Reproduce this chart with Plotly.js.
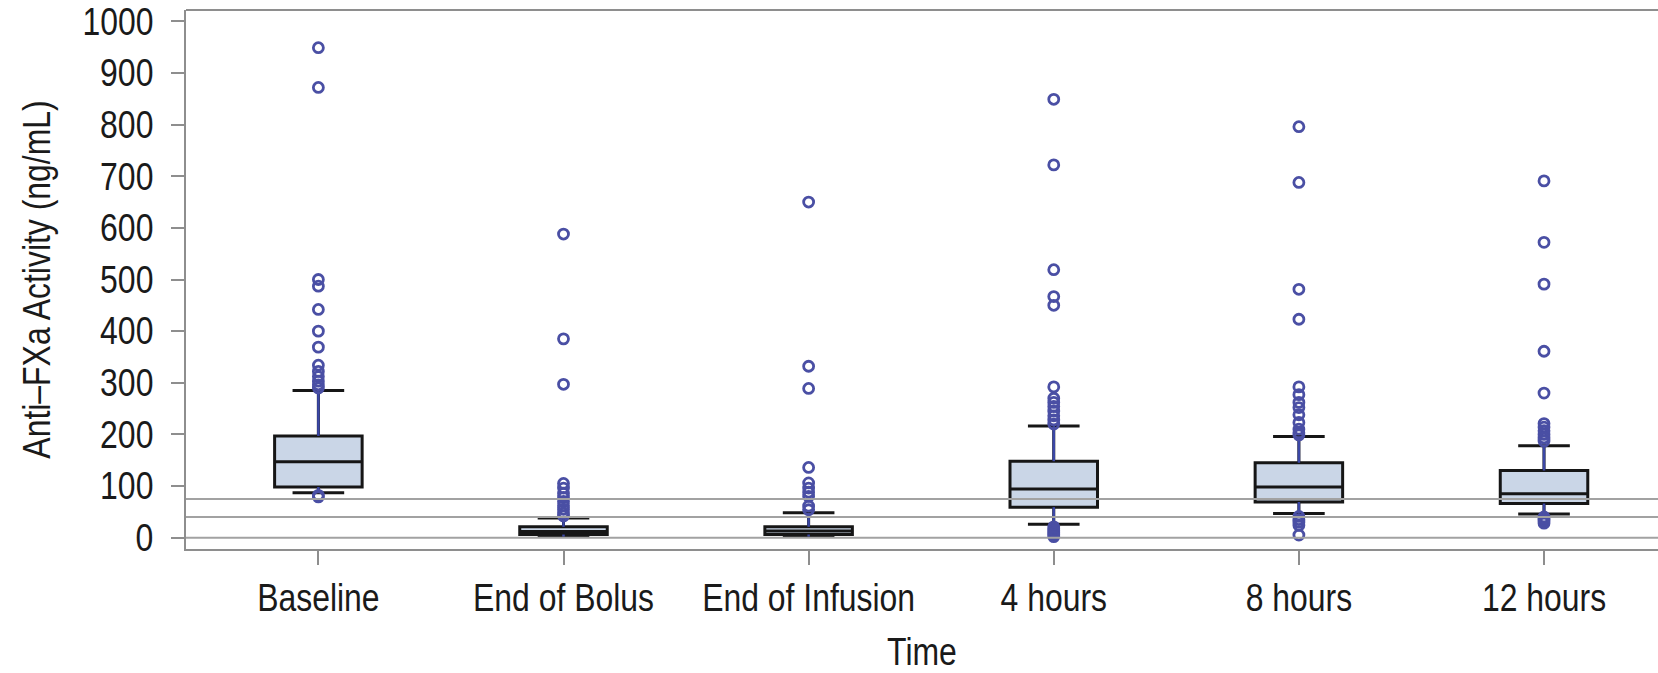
<!DOCTYPE html>
<html>
<head>
<meta charset="utf-8">
<script src="https://cdn.plot.ly/plotly-3.0.1.min.js"></script>
<style>html,body{margin:0;padding:0;background:#fff;}#chart{width:1658px;height:673px;}</style>
</head>
<body>
<div id="chart"></div>
<script>
// ---- data ----
const categories = ['Baseline', 'End of Bolus', 'End of Infusion', '4 hours', '8 hours', '12 hours'];
const q1Values = [98, 6, 6, 59, 69, 66];
const medianValues = [147, 12, 13, 94, 98, 85];
const q3Values = [197, 21, 21, 148, 145, 130];
const lowerWhiskers = [87, 2, 2, 26, 47, 46];
const upperWhiskers = [285, 38, 48, 216, 196, 178];

const outliersBaseline = [949, 872, 500, 487, 442, 400, 369, 334, 322, 312, 303, 296, 290, 82, 79];
const outliersEndOfBolus = [588, 385, 297, 105, 96, 86, 78, 70, 62, 55, 48, 42];
const outliersEndOfInfusion = [650, 332, 289, 136, 106, 96, 88, 80, 61, 54];
const outliers4h = [849, 722, 519, 467, 450, 292, 270, 262, 254, 245, 236, 228, 220, 21, 17, 13, 9, 5, 2];
const outliers8h = [796, 688, 481, 423, 292, 277, 262, 252, 238, 223, 210, 203, 199, 41, 35, 30, 24, 5];
const outliers12h = [691, 572, 491, 361, 280, 221, 214, 207, 200, 193, 187, 40, 36, 32, 28];

const referenceLines = [0, 40, 75];
const yTickValues = [0, 100, 200, 300, 400, 500, 600, 700, 800, 900, 1000];

// ---- build traces ----
const outlierGroups = [outliersBaseline, outliersEndOfBolus, outliersEndOfInfusion, outliers4h, outliers8h, outliers12h];
const outX = [], outY = [];
outlierGroups.forEach((g, i) => g.forEach(v => { outX.push(categories[i]); outY.push(v); }));

const whX = [], whY = [];
categories.forEach((c, i) => {
  whX.push(c, c, null, c, c, null);
  whY.push(q3Values[i], upperWhiskers[i], null, q1Values[i], lowerWhiskers[i], null);
});

const FONT = '"Liberation Sans", Arial, sans-serif';
const GRAY = '#8e8e8e';
const TXT = '#1a1a1a';

const boxTrace = {
  type: 'box',
  x: categories,
  q1: q1Values,
  median: medianValues,
  q3: q3Values,
  lowerfence: lowerWhiskers,
  upperfence: upperWhiskers,
  boxpoints: false,
  fillcolor: '#cad6e7',
  line: {color: '#161616', width: 3},
  whiskerwidth: 0.59,
  showlegend: false,
  hoverinfo: 'skip'
};

const whiskerTrace = {
  type: 'scatter',
  mode: 'lines',
  x: whX,
  y: whY,
  connectgaps: false,
  line: {color: '#3b47a6', width: 2.5},
  showlegend: false,
  hoverinfo: 'skip'
};

const outlierTrace = {
  type: 'scatter',
  mode: 'markers',
  x: outX,
  y: outY,
  marker: {symbol: 'circle-open', size: 10, color: '#4a4fa4', line: {width: 2.8, color: '#4a4fa4'}},
  showlegend: false
};

const shapes = referenceLines.map(v => ({
  type: 'line', xref: 'paper', yref: 'y', x0: 0, x1: 1, y0: v, y1: v,
  line: {color: '#a2a2a2', width: 2}, layer: 'above'
}));
shapes.push({type: 'line', xref: 'paper', yref: 'paper', x0: 0, x1: 1, y0: 1, y1: 1,
  line: {color: GRAY, width: 2}});

const layout = {
  width: 1658,
  height: 673,
  margin: {l: 186, r: 0, t: 10, b: 124},
  paper_bgcolor: '#ffffff',
  plot_bgcolor: '#ffffff',
  font: {family: FONT, color: TXT, size: 38},
  boxgap: 0.49,
  showlegend: false,
  xaxis: {
    type: 'category',
    categoryorder: 'array',
    categoryarray: categories,
    range: [-0.54, 5.465],
    showline: true, linecolor: GRAY, linewidth: 2,
    ticks: 'outside', ticklen: 14, tickwidth: 2, tickcolor: GRAY,
    showgrid: false, zeroline: false,
    tickfont: {family: FONT, size: 38, color: TXT},
    title: {text: 'Time', font: {family: FONT, size: 38, color: TXT}, standoff: 29}
  },
  yaxis: {
    range: [-22, 1022],
    tickvals: yTickValues,
    ticktext: yTickValues.map(String),
    showline: true, linecolor: GRAY, linewidth: 2,
    ticks: 'outside', ticklen: 13, tickwidth: 2, tickcolor: GRAY,
    ticklabelstandoff: 10,
    showgrid: false, zeroline: false,
    tickfont: {family: FONT, size: 38, color: TXT},
    title: {text: 'Anti\u2013FXa Activity (ng/mL)', font: {family: FONT, size: 38, color: TXT}, standoff: 7}
  },
  shapes: shapes
};

// condense the lettering (reference uses a condensed sans)
function condense(gd) {
  const sel = '.xtick text, .ytick text, .g-xtitle text, .g-ytitle text';
  gd.querySelectorAll(sel).forEach(t => {
    const len = t.getComputedTextLength();
    if (len > 0) {
      t.setAttribute('textLength', (len * 0.84).toFixed(1));
      t.setAttribute('lengthAdjust', 'spacingAndGlyphs');
    }
  });
}

Plotly.newPlot('chart', [boxTrace, whiskerTrace, outlierTrace], layout, {staticPlot: true, displayModeBar: false})
  .then(gd => condense(gd));
</script>
</body>
</html>
